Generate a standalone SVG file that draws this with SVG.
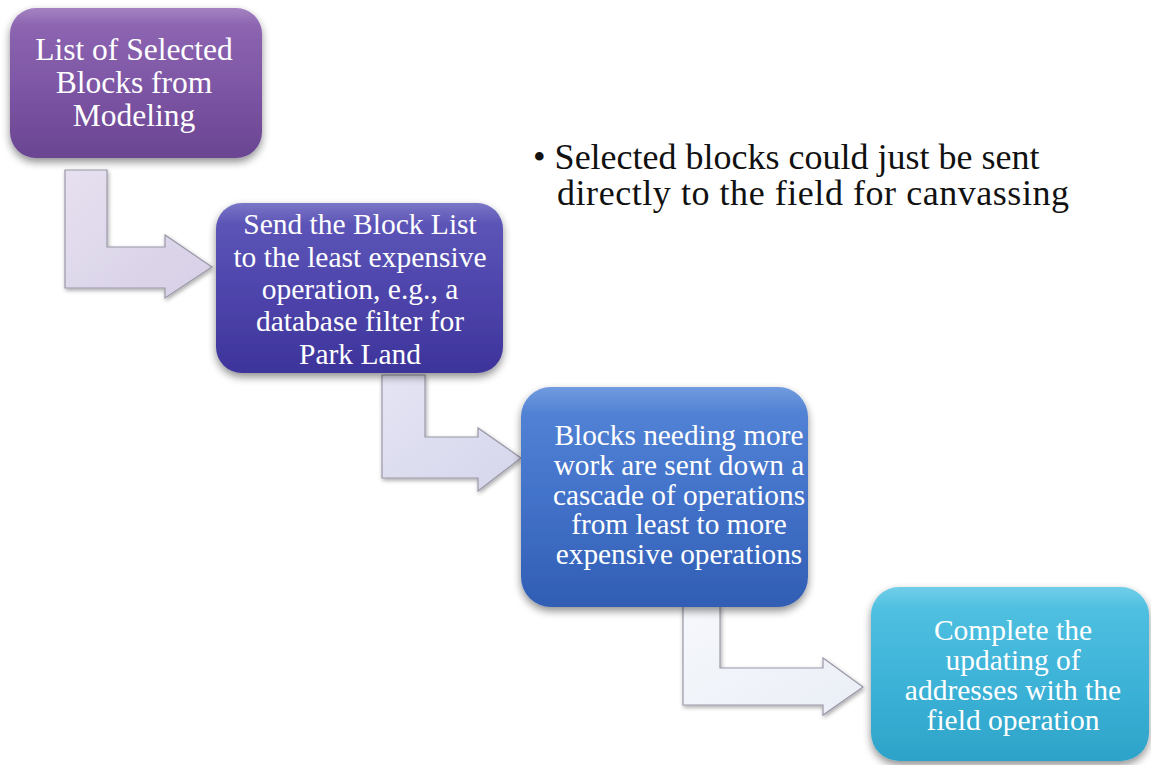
<svg xmlns="http://www.w3.org/2000/svg" width="1151" height="765" viewBox="0 0 1151 765">
  <style>
    .lbl { font-family: "Liberation Serif", "Times New Roman", serif; fill: #ffffff; text-anchor: middle; }
    .bullet { font-family: "Liberation Serif", "Times New Roman", serif; fill: #111111; font-size: 36px; }
    .box { filter: url(#shadow); }
    .gloss { fill: url(#sheen); pointer-events: none; }
    .arrow { stroke: #9a98a8; stroke-width: 1.2; filter: url(#ashadow); }
  </style>
  <defs>
    <filter id="shadow" x="-10%" y="-10%" width="120%" height="130%">
      <feGaussianBlur in="SourceAlpha" stdDeviation="4"/>
      <feOffset dx="0" dy="4" result="b"/>
      <feComponentTransfer><feFuncA type="linear" slope="0.45"/></feComponentTransfer>
      <feMerge><feMergeNode/><feMergeNode in="SourceGraphic"/></feMerge>
    </filter>
    <filter id="ashadow" x="-10%" y="-10%" width="130%" height="130%">
      <feGaussianBlur in="SourceAlpha" stdDeviation="2"/>
      <feOffset dx="1" dy="2"/>
      <feComponentTransfer><feFuncA type="linear" slope="0.35"/></feComponentTransfer>
      <feMerge><feMergeNode/><feMergeNode in="SourceGraphic"/></feMerge>
    </filter>
    <linearGradient id="sheen" x1="0" y1="0" x2="0" y2="1">
      <stop offset="0" stop-color="#ffffff" stop-opacity="0.22"/>
      <stop offset="0.12" stop-color="#ffffff" stop-opacity="0.05"/>
      <stop offset="1" stop-color="#ffffff" stop-opacity="0"/>
    </linearGradient>
    <linearGradient id="g1" x1="0" y1="0" x2="0" y2="1">
      <stop offset="0" stop-color="#8a5fb0"/>
      <stop offset="0.5" stop-color="#7a52a3"/>
      <stop offset="1" stop-color="#6a4592"/>
    </linearGradient>
    <linearGradient id="g2" x1="0" y1="0" x2="0" y2="1">
      <stop offset="0" stop-color="#5650b6"/>
      <stop offset="0.5" stop-color="#4a40aa"/>
      <stop offset="1" stop-color="#3d349a"/>
    </linearGradient>
    <linearGradient id="g3" x1="0" y1="0" x2="0" y2="1">
      <stop offset="0" stop-color="#4a7fd5"/>
      <stop offset="0.5" stop-color="#3d6ec8"/>
      <stop offset="1" stop-color="#315eb4"/>
    </linearGradient>
    <linearGradient id="g4" x1="0" y1="0" x2="0" y2="1">
      <stop offset="0" stop-color="#4ac0e2"/>
      <stop offset="0.5" stop-color="#39b2d8"/>
      <stop offset="1" stop-color="#2da3c9"/>
    </linearGradient>
    <linearGradient id="a1" x1="0" y1="0" x2="1" y2="1">
      <stop offset="0" stop-color="#e6e0f0"/>
      <stop offset="1" stop-color="#d6cfe6"/>
    </linearGradient>
    <linearGradient id="a2" x1="0" y1="0" x2="1" y2="1">
      <stop offset="0" stop-color="#e4e4f4"/>
      <stop offset="1" stop-color="#d6d6ec"/>
    </linearGradient>
    <linearGradient id="a3" x1="0" y1="0" x2="1" y2="1">
      <stop offset="0" stop-color="#f6f8fc"/>
      <stop offset="1" stop-color="#eaeef6"/>
    </linearGradient>
  </defs>

  <rect width="1151" height="765" fill="#ffffff"/>

  <!-- bent connectors between steps -->
  <g id="connectors">
    <path class="arrow" fill="url(#a1)" d="M65,170 H107 V247 H165 V235 L212,267 L165,298 V288 H65 Z"/>
    <path class="arrow" fill="url(#a2)" d="M382,375 H425 V437 H478 V428 L521,458 L478,491 V478 H382 Z"/>
    <path class="arrow" fill="url(#a3)" d="M683,606 H720 V668 H823 V658 L863,687 L823,715 V705 H683 Z"/>
  </g>

  <g id="step1">
    <rect class="box" x="10" y="8" width="252" height="150" rx="26" fill="url(#g1)"/>
    <rect class="gloss" x="10" y="8" width="252" height="150" rx="26"/>
    <text class="lbl" font-size="31.5"><tspan x="134" y="60">List of Selected</tspan><tspan x="134" y="93">Blocks from</tspan><tspan x="134" y="126">Modeling</tspan></text>
  </g>

  <g id="step2">
    <rect class="box" x="216" y="203" width="287" height="170" rx="26" fill="url(#g2)"/>
    <rect class="gloss" x="216" y="203" width="287" height="170" rx="26"/>
    <text class="lbl" font-size="29.5"><tspan x="360" y="234">Send the Block List</tspan><tspan x="360" y="267">to the least expensive</tspan><tspan x="360" y="299">operation, e.g., a</tspan><tspan x="360" y="331">database filter for</tspan><tspan x="360" y="364">Park Land</tspan></text>
  </g>

  <g id="step3">
    <rect class="box" x="521" y="387" width="287" height="220" rx="30" fill="url(#g3)"/>
    <rect class="gloss" x="521" y="387" width="287" height="220" rx="30"/>
    <text class="lbl" font-size="29.3"><tspan x="679" y="445">Blocks needing more</tspan><tspan x="679" y="475">work are sent down a</tspan><tspan x="679" y="505">cascade of operations</tspan><tspan x="679" y="534">from least to more</tspan><tspan x="679" y="564">expensive operations</tspan></text>
  </g>

  <g id="step4">
    <rect class="box" x="871" y="587" width="278" height="174" rx="28" fill="url(#g4)"/>
    <rect class="gloss" x="871" y="587" width="278" height="174" rx="28"/>
    <text class="lbl" font-size="29.5"><tspan x="1013" y="640">Complete the</tspan><tspan x="1013" y="670">updating of</tspan><tspan x="1013" y="700">addresses with the</tspan><tspan x="1013" y="730">field operation</tspan></text>
  </g>

  <g id="note">
    <text class="bullet" x="533" y="169">• Selected blocks could just be sent</text>
    <text class="bullet" x="557" y="205" textLength="512" lengthAdjust="spacing">directly to the field for canvassing</text>
  </g>
</svg>
